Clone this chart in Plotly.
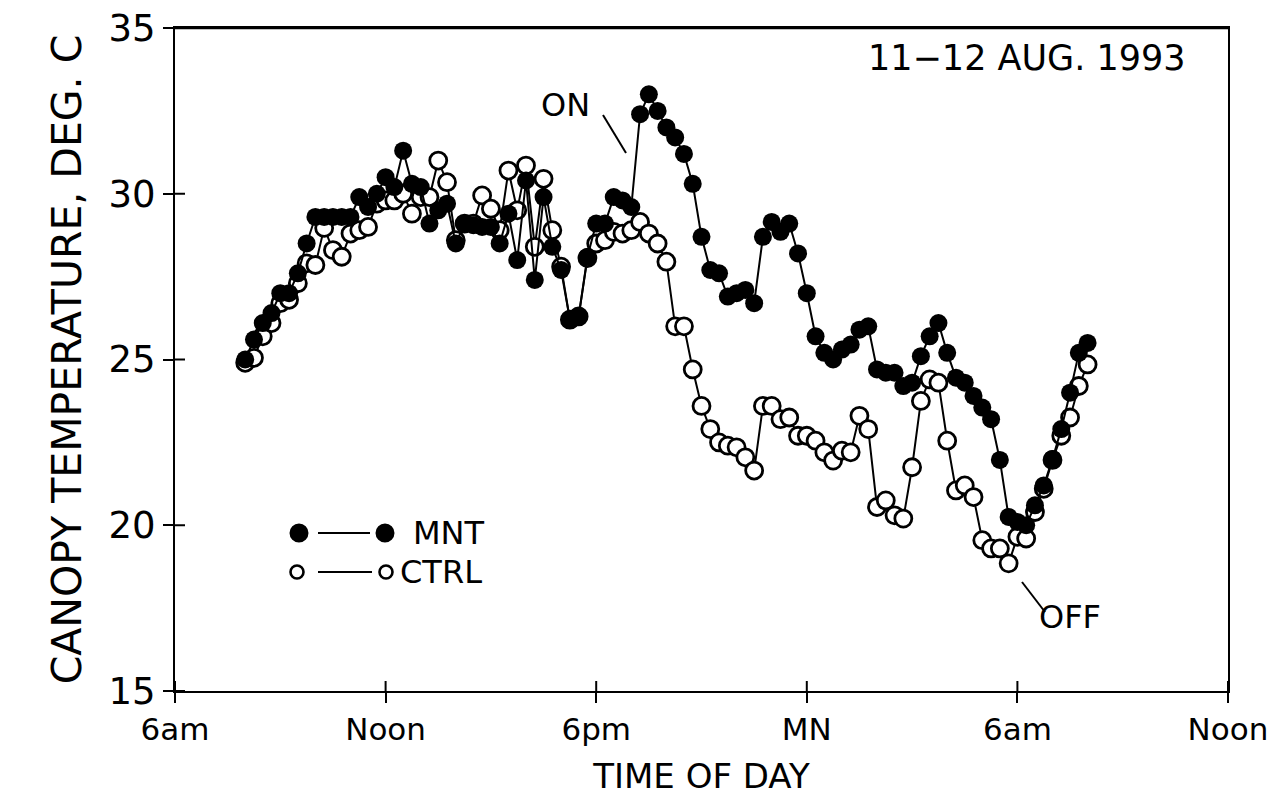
import plotly.graph_objects as go

# ---- data (hours after midnight of 11 Aug; 24 = midnight, 30 = 6am 12 Aug) ----
start_hour = 8.0
step_hour = 0.25

mnt = [25.0, 25.6, 26.1, 26.4, 27.0, 27.0, 27.6, 28.5, 29.3, 29.3,
       29.3, 29.3, 29.3, 29.9, 29.6, 30.0, 30.5, 30.2, 31.3, 30.3,
       30.2, 29.1, 29.5, 29.7, 28.5, 29.1, 29.05, 29.0, 29.0, 28.5,
       29.4, 28.0, 30.4, 27.4, 29.9, 28.4, 27.7, 26.2, 26.3, 28.1,
       29.1, 29.1, 29.9, 29.8, 29.6, 32.4, 33.0, 32.5, 32.0, 31.7,
       31.2, 30.3, 28.7, 27.7, 27.6, 26.9, 27.0, 27.1, 26.7, 28.7,
       29.15, 28.85, 29.1, 28.2, 27.0, 25.7, 25.2, 25.0, 25.3, 25.45,
       25.9, 26.0, 24.7, 24.6, 24.6, 24.2, 24.3, 25.1, 25.7, 26.1,
       25.2, 24.45, 24.3, 23.9, 23.55, 23.2, 21.97, 20.25, 20.1, 20.0,
       20.6, 21.2, 22.0, 22.9, 24.0, 25.2, 25.5]

ctrl = [24.9, 25.05, 25.7, 26.1, 26.7, 26.8, 27.3, 27.9, 27.85, 28.97,
        28.3, 28.1, 28.8, 28.9, 29.0, 29.7, 29.8, 29.8, 30.0, 29.4,
        29.9, 29.9, 31.0, 30.35, 28.6, 29.1, 29.1, 29.95, 29.55, 28.9,
        30.7, 29.5, 30.85, 28.4, 30.45, 28.9, 27.8, 26.2, 26.3, 28.06,
        28.5, 28.6, 28.85, 28.8, 28.9, 29.15, 28.8, 28.5, 27.95, 26.0,
        26.0, 24.7, 23.6, 22.9, 22.5, 22.4, 22.35, 22.05, 21.65, 23.6,
        23.6, 23.2, 23.25, 22.7, 22.7, 22.55, 22.2, 21.95, 22.25, 22.2,
        23.3, 22.9, 20.55, 20.75, 20.3, 20.2, 21.75, 23.75, 24.4, 24.3,
        22.55, 21.05, 21.2, 20.85, 19.55, 19.3, 19.3, 18.85, 19.65, 19.6,
        20.4, 21.1, 21.97, 22.7, 23.25, 24.2, 24.85]

hours = [start_hour + step_hour * i for i in range(len(mnt))]

x_tick_vals = [6, 12, 18, 24, 30, 36]
x_tick_text = ["6am", "Noon", "6pm", "MN", "6am", "Noon"]
y_tick_vals = [15, 20, 25, 30, 35]

FONT = "DejaVu Sans"

# ---- layout geometry (page has an 8px body margin on every side) ----
OFF = 8
W, H = 1281 - 2 * OFF, 804 - 2 * OFF
L, T = 175 - OFF, 28 - OFF
R = OFF + W - 1228
B = OFF + H - 691
PLOT_W = W - L - R
PLOT_H = H - T - B
TICK_IN = 10  # inner half of the crossing ticks, px


def px(xp):
    return (xp - OFF - L) / PLOT_W


def py(yp):
    return (OFF + H - B - yp) / PLOT_H


fig = go.Figure()

fig.add_trace(go.Scatter(
    x=hours, y=ctrl, mode="lines+markers", name="CTRL",
    line=dict(color="black", width=2),
    marker=dict(symbol="circle", size=17, color="white",
                line=dict(color="black", width=2.8)),
    showlegend=False, cliponaxis=False))

fig.add_trace(go.Scatter(
    x=hours, y=mnt, mode="lines+markers", name="MNT",
    line=dict(color="black", width=2),
    marker=dict(symbol="circle", size=18, color="black"),
    showlegend=False, cliponaxis=False))

axis_common = dict(showgrid=False, zeroline=False, linecolor="black",
                   linewidth=2, tickcolor="black", tickwidth=2,
                   automargin=False, ticklabeloverflow="allow")

fig.update_layout(
    template="none",
    width=W, height=H,
    margin=dict(l=L, r=R, t=T, b=B, pad=0),
    paper_bgcolor="white", plot_bgcolor="white",
    font=dict(family=FONT, color="black"),
    xaxis=dict(range=[6, 36], tickvals=x_tick_vals, ticktext=x_tick_text,
               ticks="outside", ticklen=10, showline=True, mirror=True,
               tickfont=dict(size=31, family=FONT),
               title=dict(text="TIME OF DAY", font=dict(size=34, family=FONT),
                          standoff=20),
               **axis_common),
    yaxis=dict(range=[15, 35], tickvals=y_tick_vals,
               ticks="outside", ticklen=10, showline=True, mirror=True,
               tickfont=dict(size=37, family=FONT),
               title=dict(text="CANOPY TEMPERATURE, DEG. C",
                          font=dict(size=41, family=FONT), standoff=14),
               **axis_common),
)

# ---- annotations ----
annots = [
    dict(text="11\u221212 AUG. 1993", x=px(1188), y=py(58), xanchor="right",
         yanchor="middle", size=35),
    dict(text="ON", x=px(565), y=py(105), xanchor="center", yanchor="middle",
         size=32),
    dict(text="OFF", x=px(1070), y=py(617), xanchor="center",
         yanchor="middle", size=32),
    dict(text="MNT", x=px(411), y=py(533), xanchor="left", yanchor="middle",
         size=32),
    dict(text="CTRL", x=px(398), y=py(572), xanchor="left", yanchor="middle",
         size=32),
]
for a in annots:
    fig.add_annotation(text=a["text"], x=a["x"], y=a["y"], xref="paper",
                       yref="paper", xanchor=a["xanchor"],
                       yanchor=a["yanchor"], showarrow=False,
                       font=dict(size=a["size"], family=FONT, color="black"))

shapes = []
# inner halves of the crossing tick marks
for v in x_tick_vals:
    shapes.append(dict(type="line", xref="x", yref="paper", x0=v, x1=v,
                       y0=0, y1=TICK_IN / PLOT_H,
                       line=dict(color="black", width=2)))
for v in y_tick_vals:
    shapes.append(dict(type="line", xref="paper", yref="y", y0=v, y1=v,
                       x0=0, x1=TICK_IN / PLOT_W,
                       line=dict(color="black", width=2)))
# top frame line drawn explicitly
shapes.append(dict(type="line", xref="paper", yref="paper",
                   x0=px(174), x1=px(1229), y0=py(28), y1=py(28),
                   line=dict(color="black", width=2.5)))

# leader lines and legend glyphs
for (x0, y0, x1, y1) in [(603, 115, 626, 153), (1022, 582, 1045, 612),
                         (318, 533, 370, 533), (318, 572, 372, 572)]:
    shapes.append(dict(type="line", xref="paper", yref="paper",
                       x0=px(x0), y0=py(y0), x1=px(x1), y1=py(y1),
                       line=dict(color="black", width=2)))


def circle(cx, cy, r, filled):
    return dict(type="circle", xref="paper", yref="paper",
                x0=px(cx - r), x1=px(cx + r), y0=py(cy + r), y1=py(cy - r),
                fillcolor="black" if filled else "white",
                line=dict(color="black", width=2 if filled else 2.6))


shapes += [circle(299, 533, 8.5, True), circle(385, 533, 8.5, True),
           circle(297, 572, 6.5, False), circle(386, 572, 6.5, False)]
fig.update_layout(shapes=shapes)

fig.write_html("out.html")
